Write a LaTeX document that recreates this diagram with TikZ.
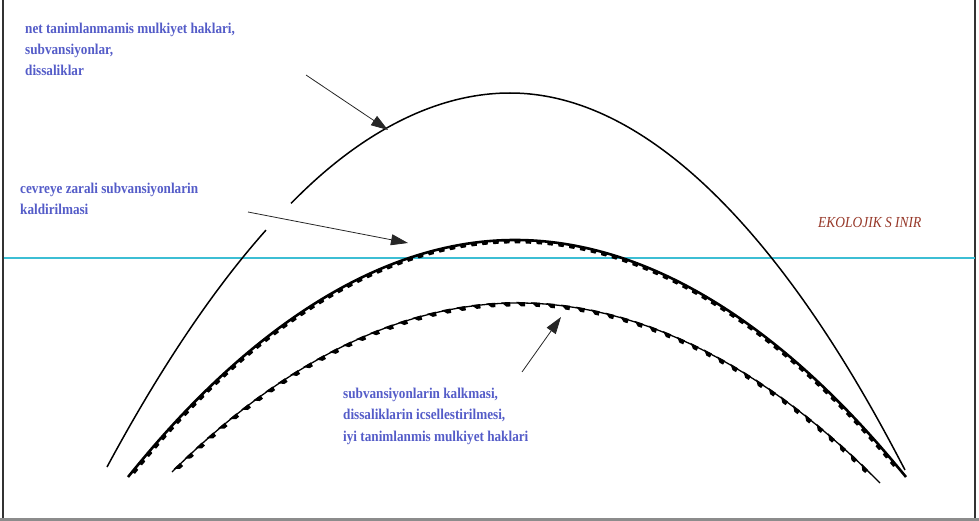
\documentclass[tikz,border=0pt]{standalone}
\usepackage{fontspec}
\setmainfont{Liberation Serif}[FakeStretch=0.88]
\usetikzlibrary{arrows.meta,decorations.markings}
\definecolor{lblue}{RGB}{84,92,200}
\definecolor{lred}{RGB}{150,55,40}
\definecolor{limitc}{RGB}{60,190,212}
\begin{document}
\begin{tikzpicture}[x=1pt,y=-1pt,
  lab/.style={anchor=base west, inner sep=0pt, font=\fontsize{15}{21}\selectfont\bfseries, text=lblue},
  redlab/.style={anchor=base west, inner sep=0pt, font=\fontsize{15.3}{21}\selectfont\itshape, text=lred},
  ptr/.style={draw=black!85, line width=0.8pt, -{Triangle[length=17pt,width=11pt]}},
  plain/.style={line width=1.5pt},
  toothed/.style={line width=2.6pt, postaction={decorate},
    decoration={markings, mark=between positions 0.01 and 0.99 step 11pt with
      {\fill (-3.5,-0.5) -- (3.5,-0.5) -- (2.5,3.4) -- (-2.5,3.4) -- cycle;}}},
  flagged/.style={line width=1.3pt, postaction={decorate},
    decoration={markings, mark=between positions 0.01 and 0.99 step 15pt with
      {\fill (-5,-1) -- (4,-1) -- (4,3.4) -- (0,3.4) -- cycle;}}},
  frame/.style={line width=1.2pt, draw=black!80}
]
\useasboundingbox (0,0) rectangle (979,521);
% frame
\draw[frame] (3,0) -- (3,518);
\draw[frame] (975,0) -- (975,518);
\draw[line width=3pt, draw=black!45] (0,519.5) -- (979,519.5);
% ecological limit
\draw[line width=2pt, draw=limitc] (4,258) -- (975,258);
% top curve (with gap)
\draw[plain, domain=107:266, samples=40, smooth] plot (\x, {93+374*((510-\x)/403)^2});
\draw[plain] (291,203.4) parabola bend (510,93) (905,470);
% middle curve
\draw[toothed] (128,477) parabola bend (515,240) (906,477);
% bottom curve
\draw[flagged] (172,472) parabola bend (518,303) (880,483);
% labels
\node[lab] (t1) at (25,34) {net tanimlanmamis mulkiyet haklari,};
\node[lab] (t2) at (25,55) {subvansiyonlar,};
\node[lab] (t3) at (25,76) {dissaliklar};
\node[lab] (m1) at (20,193.5) {cevreye zarali subvansiyonlarin};
\node[lab] (m2) at (20,214.5) {kaldirilmasi};
\node[redlab] (eko) at (818,228) {EKOLOJIK S INIR};
\node[lab] (b1) at (343,398) {subvansiyonlarin kalkmasi,};
\node[lab] (b2) at (343,419.5) {dissaliklarin icsellestirilmesi,};
\node[lab] (b3) at (343,441) {iyi tanimlanmis mulkiyet haklari};
% arrows
\coordinate (a1s) at (306,75);
\coordinate (a1e) at (388,130);
\coordinate (a2s) at (248,212);
\coordinate (a2e) at (408,243);
\coordinate (a3s) at (522,372);
\coordinate (a3e) at (561,317);
\draw[ptr] (a1s) -- (a1e);
\draw[ptr] (a2s) -- (a2e);
\draw[ptr] (a3s) -- (a3e);
\end{tikzpicture}
\end{document}
